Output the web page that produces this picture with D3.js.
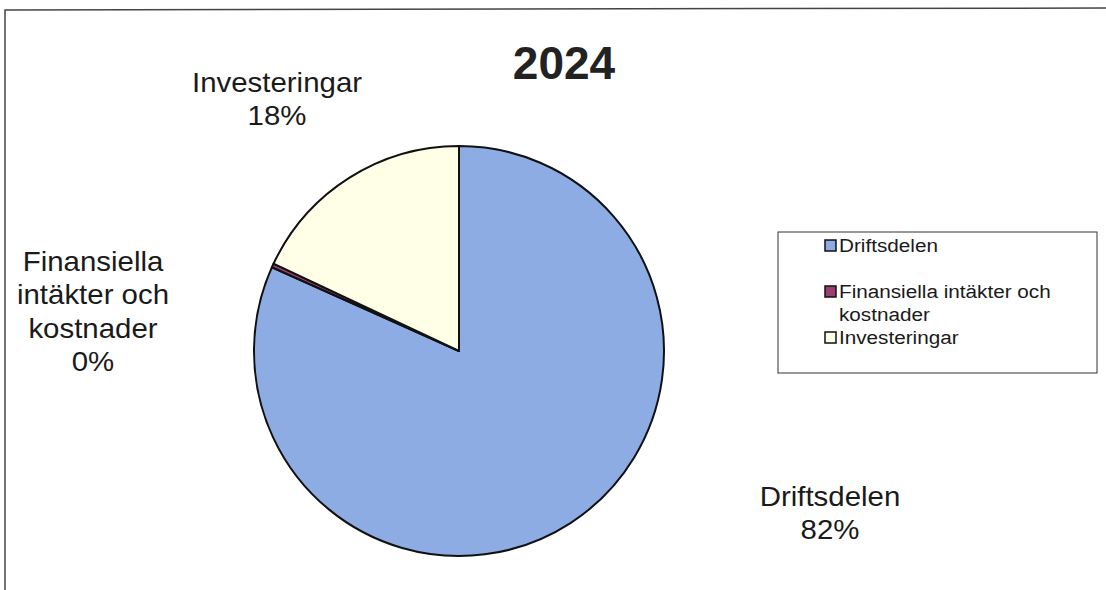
<!DOCTYPE html>
<html>
<head>
<meta charset="utf-8">
<script src="https://cdn.jsdelivr.net/npm/d3@7"></script>
<style>
  html, body { margin: 0; padding: 0; background: #fff; }
  svg { display: block; font-family: "Liberation Sans", Arial, sans-serif; }
</style>
</head>
<body>
<div id="chart"></div>
<script>
// Data
const title = '2024';
const categories = ['Driftsdelen', 'Finansiella intäkter och kostnader', 'Investeringar'];
const values = [81.7, 0.3, 18.0];
const colors = ['#8eace4', '#9b3f72', '#fffee6'];

// label lines outside the pie (category name wrapped as in the reference)
const labelLines = [
    ['Driftsdelen'],
    ['Finansiella', 'intäkter och', 'kostnader'],
    ['Investeringar']
];
const legendLines = [
    ['Driftsdelen'],
    ['Finansiella intäkter och', 'kostnader'],
    ['Investeringar']
];

const width = 1106, height = 590;
const center = { x: 459, y: 351 };
const radius = 205;
const stretch = 1.09; // the scanned chart is a little wider than tall

const svg = d3.select('#chart')
    .append('svg')
    .attr('width', width)
    .attr('height', height);

// chart frame (runs off the right and bottom edges)
svg.append('path')
    .attr('d', 'M5,590 L5,10 L1106,8')
    .attr('fill', 'none')
    .attr('stroke', '#444')
    .attr('stroke-width', 1.5);

const total = d3.sum(values);
const data = categories.map((c, i) => ({ name: c, value: values[i], color: colors[i], lines: labelLines[i], legend: legendLines[i] }));

const pie = d3.pie()
    .sort(null)
    .value(d => d.value)
    .startAngle(0)
    .endAngle(2 * Math.PI);

const arc = d3.arc()
    .innerRadius(0)
    .outerRadius(radius);

const pieGroup = svg.append('g')
    .attr('transform', `translate(${center.x}, ${center.y})`);

pieGroup.selectAll('path')
    .data(pie(data))
    .join('path')
    .attr('d', arc)
    .attr('fill', d => d.data.color)
    .attr('stroke', '#111')
    .attr('stroke-width', 2)
    .attr('stroke-linejoin', 'round');

// Title
svg.append('text')
    .attr('transform', 'translate(564, 79)')
    .attr('text-anchor', 'middle')
    .style('font-size', '46px')
    .style('font-weight', 'bold')
    .attr('fill', '#222')
    .text(title);

// Data labels (name lines + percent), positioned where Excel put them
const labelPos = [
    { x: 830, y: 506 },
    { x: 93, y: 271 },
    { x: 277, y: 92 }
];
const lineH = 33.5;

const labels = svg.append('g');
data.forEach((d, i) => {
    const lines = d.lines.concat([Math.round(d.value / total * 100) + '%']);
    const t = labels.append('text')
        .attr('transform', `translate(${labelPos[i].x}, ${labelPos[i].y}) scale(${stretch}, 1)`)
        .attr('text-anchor', 'middle')
        .attr('fill', '#1a1a1a')
        .style('font-size', '27px');
    lines.forEach((l, j) => {
        t.append('tspan')
            .attr('x', 0)
            .attr('y', j * lineH)
            .text(l);
    });
});

// Legend
const legend = svg.append('g');
legend.append('rect')
    .attr('x', 778)
    .attr('y', 232)
    .attr('width', 319)
    .attr('height', 141)
    .attr('fill', '#fff')
    .attr('stroke', '#333')
    .attr('stroke-width', 1);

const legendBaselines = [252, 298, 344];
data.forEach((d, i) => {
    const y = legendBaselines[i];
    legend.append('rect')
        .attr('x', 825)
        .attr('y', y - 12)
        .attr('width', 11)
        .attr('height', 11)
        .attr('fill', d.color)
        .attr('stroke', '#111')
        .attr('stroke-width', 1.5);
    const t = legend.append('text')
        .attr('transform', `translate(839, ${y}) scale(${stretch}, 1)`)
        .attr('fill', '#1a1a1a')
        .style('font-size', '19px');
    d.legend.forEach((l, j) => {
        t.append('tspan')
            .attr('x', 0)
            .attr('y', j * 23)
            .text(l);
    });
});
</script>
</body>
</html>
